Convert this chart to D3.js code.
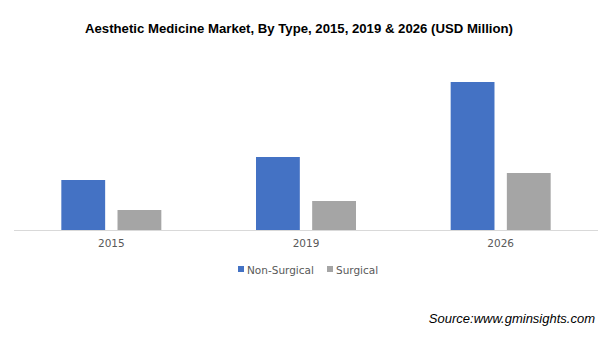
<!DOCTYPE html>
<html>
<head>
<meta charset="utf-8">
<script src="https://cdn.jsdelivr.net/npm/d3@7"></script>
<style>
  body { margin: 0; background: #fff; }
  svg { display: block; }
</style>
</head>
<body>
<div id="graph"></div>
<script>
document.addEventListener("DOMContentLoaded", function() {

  // chart data (USD Million, estimated)
  const years = ["2015", "2019", "2026"];
  const seriesNames = ["Non-Surgical", "Surgical"];
  const nonSurgical = [50, 73, 148];
  const surgical = [20, 29, 57];
  const colors = ["#4472c4", "#a5a5a5"];

  const width = 612, height = 346;

  const svg = d3.select("div#graph")
    .append("svg")
    .attr("width", width)
    .attr("height", height);

  // title
  svg.append("text")
    .attr("x", 85)
    .attr("y", 33)
    .attr("textLength", 428)
    .attr("lengthAdjust", "spacingAndGlyphs")
    .style("font-family", "'Liberation Sans', Arial, sans-serif")
    .style("font-weight", "bold")
    .style("font-size", "13.5px")
    .style("fill", "#000")
    .text("Aesthetic Medicine Market, By Type, 2015, 2019 & 2026 (USD Million)");

  const rows = years.map((y, i) => ({ year: y, values: [nonSurgical[i], surgical[i]] }));

  const x0 = d3.scaleBand().domain(years).range([14, 598]);
  const groupWidth = 100;
  const x1 = d3.scaleBand().domain(seriesNames).range([0, groupWidth]).paddingInner(0.22);
  const y = d3.scaleLinear().domain([0, 160]).range([230, 70]);

  // bars
  const groups = svg.append("g").selectAll("g")
    .data(rows)
    .enter()
    .append("g")
    .attr("transform", d => `translate(${x0(d.year) + x0.bandwidth() / 2 - groupWidth / 2},0)`);

  groups.selectAll("rect")
    .data(d => d.values.map((v, i) => ({ name: seriesNames[i], value: v, i: i })))
    .enter()
    .append("rect")
    .attr("x", d => x1(d.name))
    .attr("y", d => y(d.value))
    .attr("width", x1.bandwidth())
    .attr("height", d => y(0) - y(d.value))
    .attr("fill", d => colors[d.i]);

  // x axis
  const xAxis = svg.append("g")
    .attr("transform", `translate(0,${y(0)})`)
    .call(d3.axisBottom(x0).tickSize(0).tickPadding(10));
  xAxis.select(".domain").attr("stroke", "#d9d9d9").attr("d", "M14,0.5H598");
  xAxis.selectAll("text")
    .style("font-family", "'DejaVu Sans', sans-serif")
    .style("font-size", "10.5px")
    .style("fill", "#595959");

  // legend
  const legendX = [238, 327];
  const legend = svg.append("g").selectAll("g")
    .data(seriesNames)
    .enter()
    .append("g")
    .attr("transform", (d, i) => `translate(${legendX[i]},270)`);
  legend.append("rect")
    .attr("x", 0).attr("y", -4)
    .attr("width", 6).attr("height", 6)
    .attr("fill", (d, i) => colors[i]);
  legend.append("text")
    .attr("x", 9)
    .attr("y", 4)
    .style("font-family", "'DejaVu Sans', sans-serif")
    .style("font-size", "10.5px")
    .style("fill", "#595959")
    .text(d => d);

  // source note
  svg.append("text")
    .attr("x", 595)
    .attr("y", 323)
    .attr("text-anchor", "end")
    .style("font-family", "'Liberation Sans', Arial, sans-serif")
    .style("font-style", "italic")
    .style("font-size", "13px")
    .style("fill", "#000")
    .text("Source:www.gminsights.com");
});
</script>
</body>
</html>
